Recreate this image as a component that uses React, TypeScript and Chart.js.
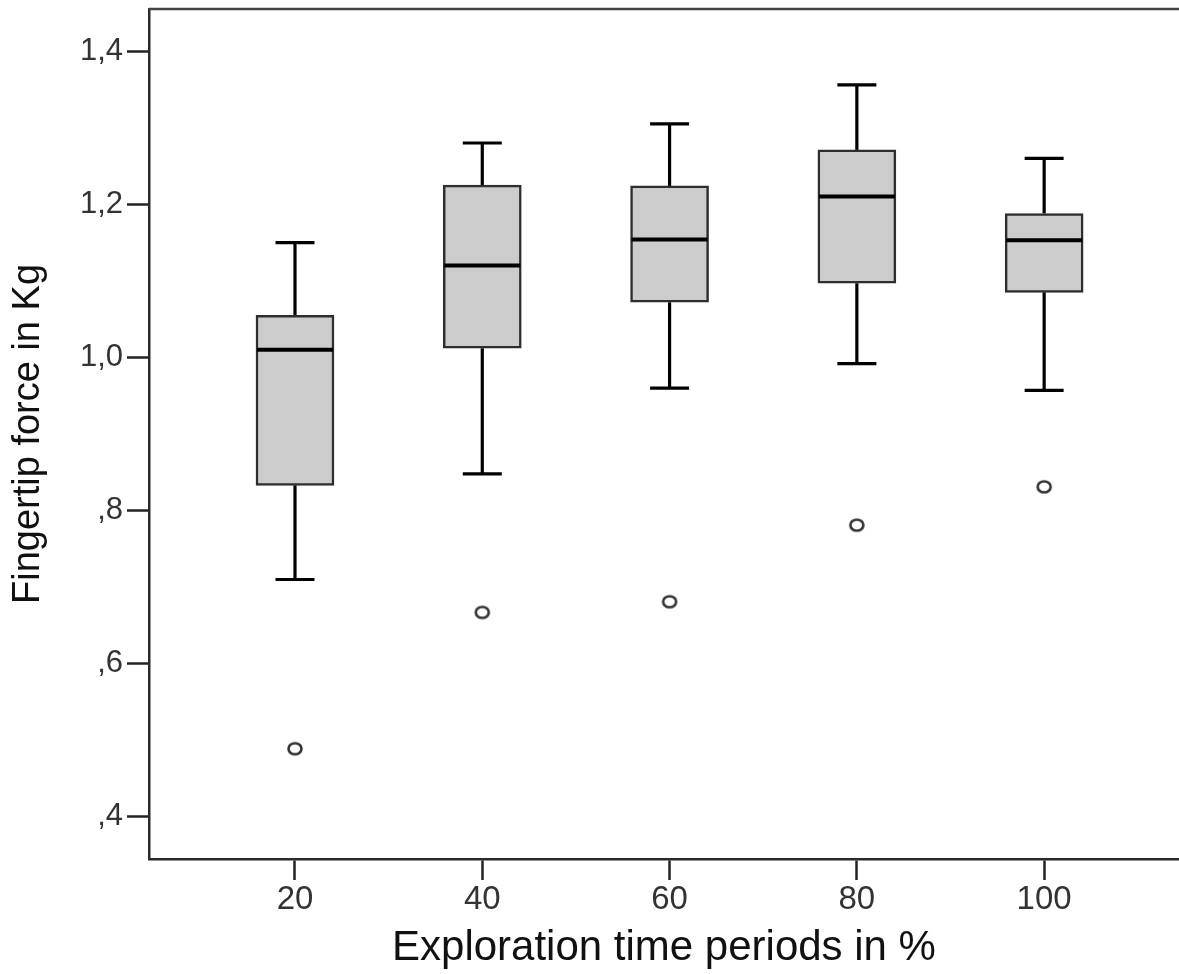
import React, { useEffect, useRef } from 'react';
import { Chart, registerables } from 'chart.js';

Chart.register(...registerables);

// ---- data ----
const categories = [20, 40, 60, 80, 100];
const whiskerLow = [0.71, 0.848, 0.96, 0.992, 0.957];
const q1 = [0.833, 1.012, 1.072, 1.097, 1.085];
const median = [1.01, 1.12, 1.154, 1.21, 1.153];
const q3 = [1.055, 1.225, 1.224, 1.271, 1.188];
const whiskerHigh = [1.15, 1.28, 1.305, 1.356, 1.26];
const outliers = [0.489, 0.667, 0.681, 0.781, 0.831];

const xTicks = [20, 40, 60, 80, 100];
const xTickLabels = ['20', '40', '60', '80', '100'];
const yTicks = [0.4, 0.6, 0.8, 1.0, 1.2, 1.4];
const yTickLabels = [',4', ',6', ',8', '1,0', '1,2', '1,4'];

const xTitle = 'Exploration time periods in %';
const yTitle = 'Fingertip force in Kg';

const FONT = '"Liberation Sans", Arial, sans-serif';
const BOX_WIDTH = 78;

function makeEllipse(): HTMLCanvasElement {
  const c = document.createElement('canvas');
  c.width = 20;
  c.height = 18;
  const g = c.getContext('2d')!;
  g.beginPath();
  g.ellipse(10, 9, 6.5, 5.5, 0, 0, Math.PI * 2);
  g.fillStyle = '#ffffff';
  g.fill();
  g.lineWidth = 2.6;
  g.strokeStyle = '#333333';
  g.stroke();
  return c;
}

const boxPlugin = {
  id: 'boxExtras',
  beforeDatasetsDraw(chart: any) {
    const { ctx, scales } = chart;
    const x = scales.x;
    const y = scales.y;
    ctx.save();
    ctx.strokeStyle = '#000000';
    ctx.lineWidth = 3.2;
    const capHalf = BOX_WIDTH / 4;
    categories.forEach((c, i) => {
      const px = x.getPixelForValue(c);
      const yHi = y.getPixelForValue(whiskerHigh[i]);
      const yLo = y.getPixelForValue(whiskerLow[i]);
      const yQ3 = y.getPixelForValue(q3[i]);
      const yQ1 = y.getPixelForValue(q1[i]);
      ctx.beginPath();
      ctx.moveTo(px, yQ3);
      ctx.lineTo(px, yHi);
      ctx.moveTo(px - capHalf, yHi);
      ctx.lineTo(px + capHalf, yHi);
      ctx.moveTo(px, yQ1);
      ctx.lineTo(px, yLo);
      ctx.moveTo(px - capHalf, yLo);
      ctx.lineTo(px + capHalf, yLo);
      ctx.stroke();
    });
    ctx.restore();
  },
  afterDatasetsDraw(chart: any) {
    const { ctx, scales } = chart;
    const x = scales.x;
    const y = scales.y;
    ctx.save();
    ctx.strokeStyle = '#000000';
    ctx.lineWidth = 4;
    categories.forEach((c, i) => {
      const px = x.getPixelForValue(c);
      const ym = y.getPixelForValue(median[i]);
      ctx.beginPath();
      ctx.moveTo(px - BOX_WIDTH / 2 + 1, ym);
      ctx.lineTo(px + BOX_WIDTH / 2 - 1, ym);
      ctx.stroke();
    });
    ctx.restore();
  },
  afterDraw(chart: any) {
    const { ctx, chartArea } = chart;
    ctx.save();
    ctx.strokeStyle = '#444444';
    ctx.lineWidth = 2.5;
    ctx.beginPath();
    ctx.moveTo(chartArea.left, chartArea.top);
    ctx.lineTo(chart.width, chartArea.top);
    ctx.stroke();
    ctx.restore();
  },
};

export default function App() {
  const ref = useRef<HTMLCanvasElement | null>(null);

  useEffect(() => {
    if (!ref.current) return;
    const ellipse = makeEllipse();
    const chart = new Chart(ref.current, {
      type: 'bar',
      data: {
        datasets: [
          {
            type: 'bar',
            label: 'box',
            data: categories.map((c, i) => ({ x: c, y: [q1[i], q3[i]] })) as any,
            backgroundColor: '#cccccc',
            borderColor: '#2e2e2e',
            borderWidth: 2.5,
            borderSkipped: false,
            barThickness: BOX_WIDTH,
          } as any,
          {
            type: 'scatter',
            label: 'outliers',
            data: categories.map((c, i) => ({ x: c, y: outliers[i] })),
            pointStyle: ellipse as any,
            pointRadius: 8,
            pointHoverRadius: 8,
          } as any,
        ],
      },
      options: {
        responsive: false,
        animation: false,
        events: [],
        layout: { autoPadding: false, padding: { top: 9, right: 0, left: 0, bottom: 0 } },
        plugins: {
          legend: { display: false },
          tooltip: { enabled: false },
        },
        scales: {
          x: {
            type: 'linear',
            min: 4.41,
            max: 114.4,
            offset: false,
            afterFit: (s: any) => {
              s.height = 115;
              s.paddingLeft = 0;
              s.paddingRight = 0;
            },
            afterBuildTicks: (s: any) => {
              s.ticks = xTicks.map((v) => ({ value: v }));
            },
            ticks: {
              autoSkip: false,
              maxRotation: 0,
              padding: 0,
              color: '#333333',
              font: { family: FONT, size: 33 },
              callback: (v: any) => {
                const idx = xTicks.indexOf(Number(v));
                return idx >= 0 ? xTickLabels[idx] : '';
              },
            },
            grid: {
              offset: false,
              drawOnChartArea: false,
              drawTicks: true,
              tickLength: 21,
              tickWidth: 2.5,
              tickColor: '#222222',
            },
            border: { display: true, color: '#2a2a2a', width: 2.5 },
            title: {
              display: true,
              text: xTitle,
              color: '#111111',
              font: { family: FONT, size: 42 },
              padding: { top: 0, bottom: 0 },
            },
          },
          y: {
            type: 'linear',
            min: 0.345,
            max: 1.455,
            afterFit: (s: any) => {
              s.width = 149;
              s.paddingTop = 0;
              s.paddingBottom = 0;
            },
            afterBuildTicks: (s: any) => {
              s.ticks = yTicks.map((v) => ({ value: v }));
            },
            ticks: {
              autoSkip: false,
              padding: 4,
              color: '#333333',
              font: { family: FONT, size: 31 },
              callback: (v: any) => {
                const idx = yTicks.findIndex((t) => Math.abs(t - Number(v)) < 1e-6);
                return idx >= 0 ? yTickLabels[idx] : '';
              },
            },
            grid: {
              drawOnChartArea: false,
              drawTicks: true,
              tickLength: 22,
              tickWidth: 2.5,
              tickColor: '#222222',
            },
            border: { display: true, color: '#2a2a2a', width: 2.5 },
            title: {
              display: true,
              text: yTitle,
              color: '#111111',
              font: { family: FONT, size: 38 },
              padding: { top: 6, bottom: 0 },
            },
          },
        },
      } as any,
      plugins: [boxPlugin],
    });
    return () => chart.destroy();
  }, []);

  return (
    <canvas
      ref={ref}
      width={1179}
      height={974}
      style={{ position: 'fixed', left: 0, top: 0, display: 'block', background: '#ffffff' }}
    />
  );
}
